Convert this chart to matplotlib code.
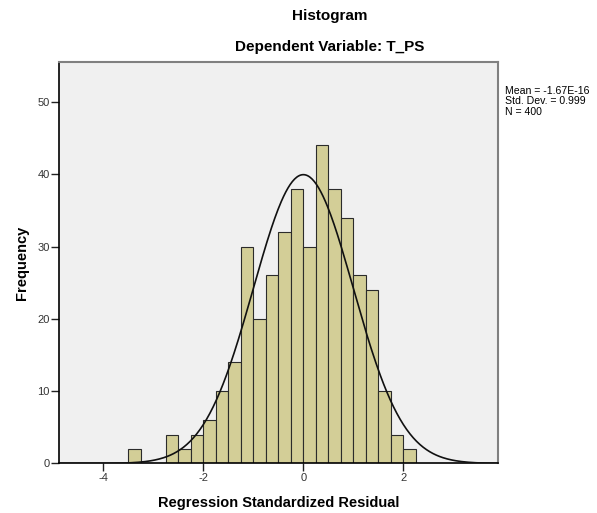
import numpy as np
import matplotlib
matplotlib.use("Agg")
import matplotlib.pyplot as plt

plt.rcParams['font.family'] = ['Liberation Sans', 'DejaVu Sans']
plt.rcParams['axes.unicode_minus'] = False

# Residual histogram (bins of width 0.25 starting at -3.5)
bin_start = -3.5
bin_width = 0.25
counts = [2, 0, 0, 4, 2, 4, 6, 10, 14, 30, 20, 26, 32, 38,
          30, 44, 38, 34, 26, 24, 10, 4, 2]

mean = -1.67e-16
std_dev = 0.999
n_obs = 400

x_ticks = [-4, -2, 0, 2]
y_ticks = [0, 10, 20, 30, 40, 50]

fig = plt.figure(figsize=(5.97, 5.13), dpi=100)
ax = fig.add_axes([0.0993, 0.0965, 0.7347, 0.7825])
ax.set_facecolor('#f0f0f0')

lefts = bin_start + bin_width * np.arange(len(counts))
ax.bar(lefts, counts, width=bin_width, align='edge', color='#d3ce97',
       edgecolor='#2b2b2b', linewidth=0.8, zorder=2)

xlim = (-4.88, 3.89)
xs = np.linspace(xlim[0], xlim[1], 400)
pdf = np.exp(-0.5 * ((xs - mean) / std_dev) ** 2) / (std_dev * np.sqrt(2 * np.pi))
ax.plot(xs, n_obs * bin_width * pdf, color='#111111', linewidth=1.2, zorder=3)

ax.set_xlim(*xlim)
ax.set_ylim(0, 55.5)
ax.set_xticks(x_ticks)
ax.set_yticks(y_ticks)
ax.tick_params(axis='both', direction='out', length=6, width=1, labelsize=8,
               colors='#222222', pad=1)
ax.tick_params(axis='both', labelcolor='#333333')

for side in ['left', 'bottom']:
    ax.spines[side].set_color('black')
    ax.spines[side].set_linewidth(1.2)
for side in ['top', 'right']:
    ax.spines[side].set_color('#808080')
    ax.spines[side].set_linewidth(1.5)

ax.set_xlabel('Regression Standardized Residual', fontsize=10.5, fontweight='bold',
              va='center')
ax.xaxis.set_label_coords(0.5, -(503 - 463.5) / 401.5)
ax.set_ylabel('Frequency', fontsize=10.5, fontweight='bold', va='center')
ax.yaxis.set_label_coords(-(59.3 - 22) / 438.7, 0.5)

fig.text(330 / 597, 1 - 16 / 513, 'Histogram', ha='center', va='center',
         fontsize=11, fontweight='bold')
fig.text(330 / 597, 1 - 47 / 513, 'Dependent Variable: T_PS', ha='center', va='center',
         fontsize=11, fontweight='bold')

stats = 'Mean = -1.67E-16\nStd. Dev. = 0.999\nN = 400'
fig.text(505 / 597, 1 - 86 / 513, stats, ha='left', va='top', fontsize=7.6,
         linespacing=1.05)

fig.savefig('out.png', dpi=100, facecolor='white')
